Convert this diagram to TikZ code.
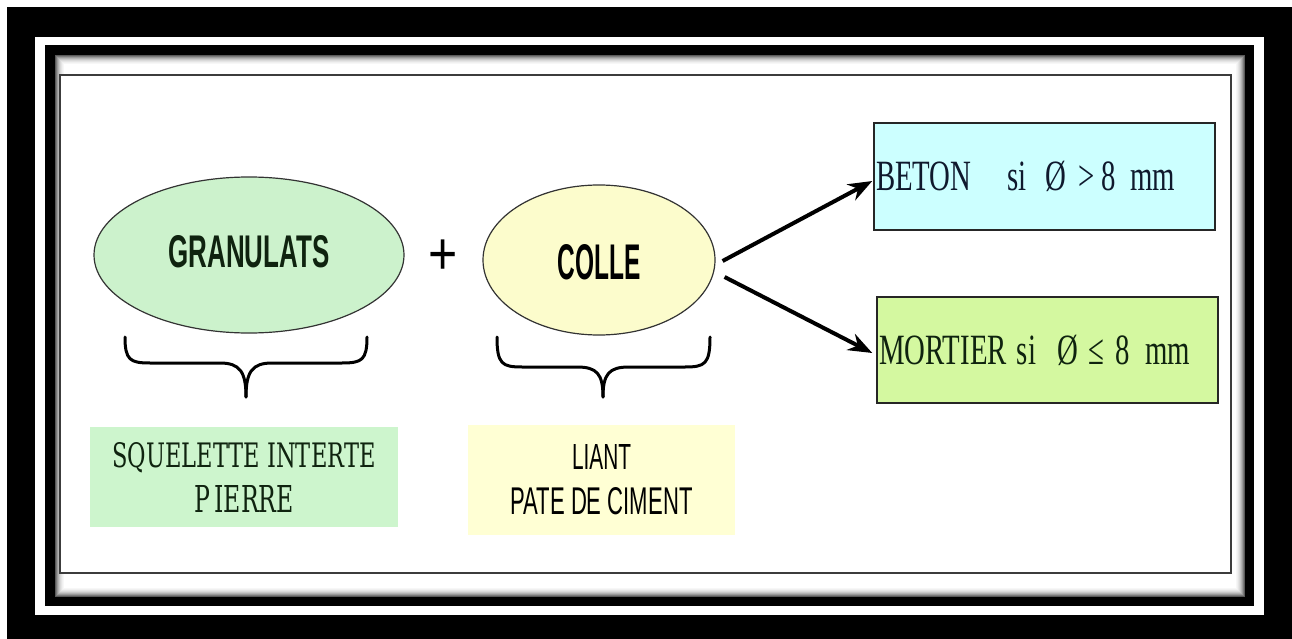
\documentclass[tikz,border=0pt]{standalone}
\usepackage{fontspec}
\usepackage{graphicx}
\setmainfont{Liberation Serif}
\newfontfamily\lsans{Liberation Sans}
\newfontfamily\slabfont{DejaVu Serif}
\usetikzlibrary{shapes.geometric,arrows.meta}
\newcommand{\fittext}[3]{\resizebox{#1}{#2}{#3}}
\definecolor{grfill}{RGB}{204,242,204}
\definecolor{yefill}{RGB}{252,252,204}
\definecolor{cyfill}{RGB}{204,255,255}
\definecolor{mofill}{RGB}{212,248,160}
\definecolor{bgreen}{RGB}{205,245,205}
\definecolor{byellow}{RGB}{255,255,212}
\definecolor{framegrey}{RGB}{60,60,60}
\definecolor{dgtext}{RGB}{15,35,15}
\definecolor{dbtext}{RGB}{15,25,45}
\begin{document}
\begin{tikzpicture}[x=1pt,y=-1pt,
  ell/.style={ellipse, draw=black!80, line width=1.2pt, inner sep=0pt},
  condbox/.style={rectangle, draw=black!85, line width=1.5pt, inner xsep=2pt, inner ysep=0pt,
    text width=337pt, align=left, minimum height=107pt,
    font=\fontsize{28.8pt}{30pt}\selectfont},
  notebox/.style={rectangle, inner sep=0pt, align=center, text=black,
    font=\fontsize{20pt}{45pt}\selectfont},
  arr/.style={line width=4pt, -{Stealth[length=24pt,width=18pt]}},
  bracepath/.style={line width=3pt, line cap=round, line join=round}
]
\useasboundingbox (0,0) rectangle (1292,639);
\fill[white] (0,0) rectangle (1292,639);
% frames
\fill[black] (7,7) rectangle (1292,639);
\fill[white] (35,37) rectangle (1264,615);
\fill[black] (45,45) rectangle (1254,606);
\fill[white] (55,55) rectangle (1245,597);
\foreach \i/\c in {0/65,1/52,2/40,3/30,4/22,5/15,6/10,7/6,8/3} {
  \draw[black!\c, line width=1pt] (55.5+\i,55.5+\i) rectangle (1244.5-\i,596.5-\i);
}
\fill[white] (61,76) rectangle (1230,572);
\draw[framegrey, line width=2pt] (60,75) rectangle (1231,573);

% ellipses
\node[ell, fill=grfill, minimum width=310pt, minimum height=156pt, text depth=8pt] (gran) at (249,255)
  {\color{dgtext}\fittext{161pt}{32pt}{\lsans\bfseries GRANULATS}};
\node[ell, fill=yefill, minimum width=232pt, minimum height=150pt, text height=40pt] (colle) at (599,260)
  {\fittext{83pt}{35pt}{\lsans\bfseries COLLE}};
\node[inner sep=0pt] (plus) at (443,257) {\scalebox{1}[1.2]{\lsans\fontsize{50pt}{50pt}\selectfont +}};

% braces
\draw[bracepath] (125,337) .. controls (125,360) and (130,363) .. (150,363) -- (220,363)
  .. controls (240,363) and (246,372) .. (246,397);
\draw[bracepath] (367,337) .. controls (367,360) and (362,363) .. (342,363) -- (272,363)
  .. controls (252,363) and (246,372) .. (246,397);
\draw[bracepath] (497,337) .. controls (497,364) and (502,367) .. (522,367) -- (577,367)
  .. controls (597,367) and (603,374) .. (603,397);
\draw[bracepath] (710,337) .. controls (710,364) and (705,367) .. (685,367) -- (629,367)
  .. controls (609,367) and (603,374) .. (603,397);

% bottom notes
\node[notebox, fill=bgreen, minimum width=308pt, minimum height=100pt, text=dgtext] (sq) at (244,477)
  {\fittext{263pt}{25pt}{\slabfont SQUELETTE INTERTE}\\\fittext{100pt}{27pt}{\slabfont P\hspace{4pt}IERRE}};
\node[notebox, fill=byellow, minimum width=267pt, minimum height=110pt] (liant) at (601.5,480)
  {\fittext{59pt}{25pt}{\lsans LIANT}\\\fittext{182pt}{27pt}{\lsans PATE DE CIMENT}};

% result boxes
\node[condbox, fill=cyfill, text=dbtext] (beton) at (1044.5,176.5)
  {\scalebox{1}[1.5]{BETON\hspace{36pt}si\hspace{19pt}Ø\hspace{12pt}>\hspace{7pt}8\hspace{14pt}mm}};
\node[condbox, fill=mofill, minimum height=106pt, text=dgtext] (mort) at (1047.5,350)
  {\scalebox{1}[1.5]{MORTIER\hspace{10pt}si\hspace{21pt}Ø\hspace{11pt}≤\hspace{11pt}8\hspace{15pt}mm}};

% arrows
\draw[arr] ([xshift=7pt,yshift=-1pt]colle.east) -- ([xshift=-1pt,yshift=-4.5pt]beton.west);
\draw[arr] ([xshift=9pt,yshift=-17pt]colle.east) -- ([xshift=-4pt,yshift=-3pt]mort.west);
\end{tikzpicture}
\end{document}
